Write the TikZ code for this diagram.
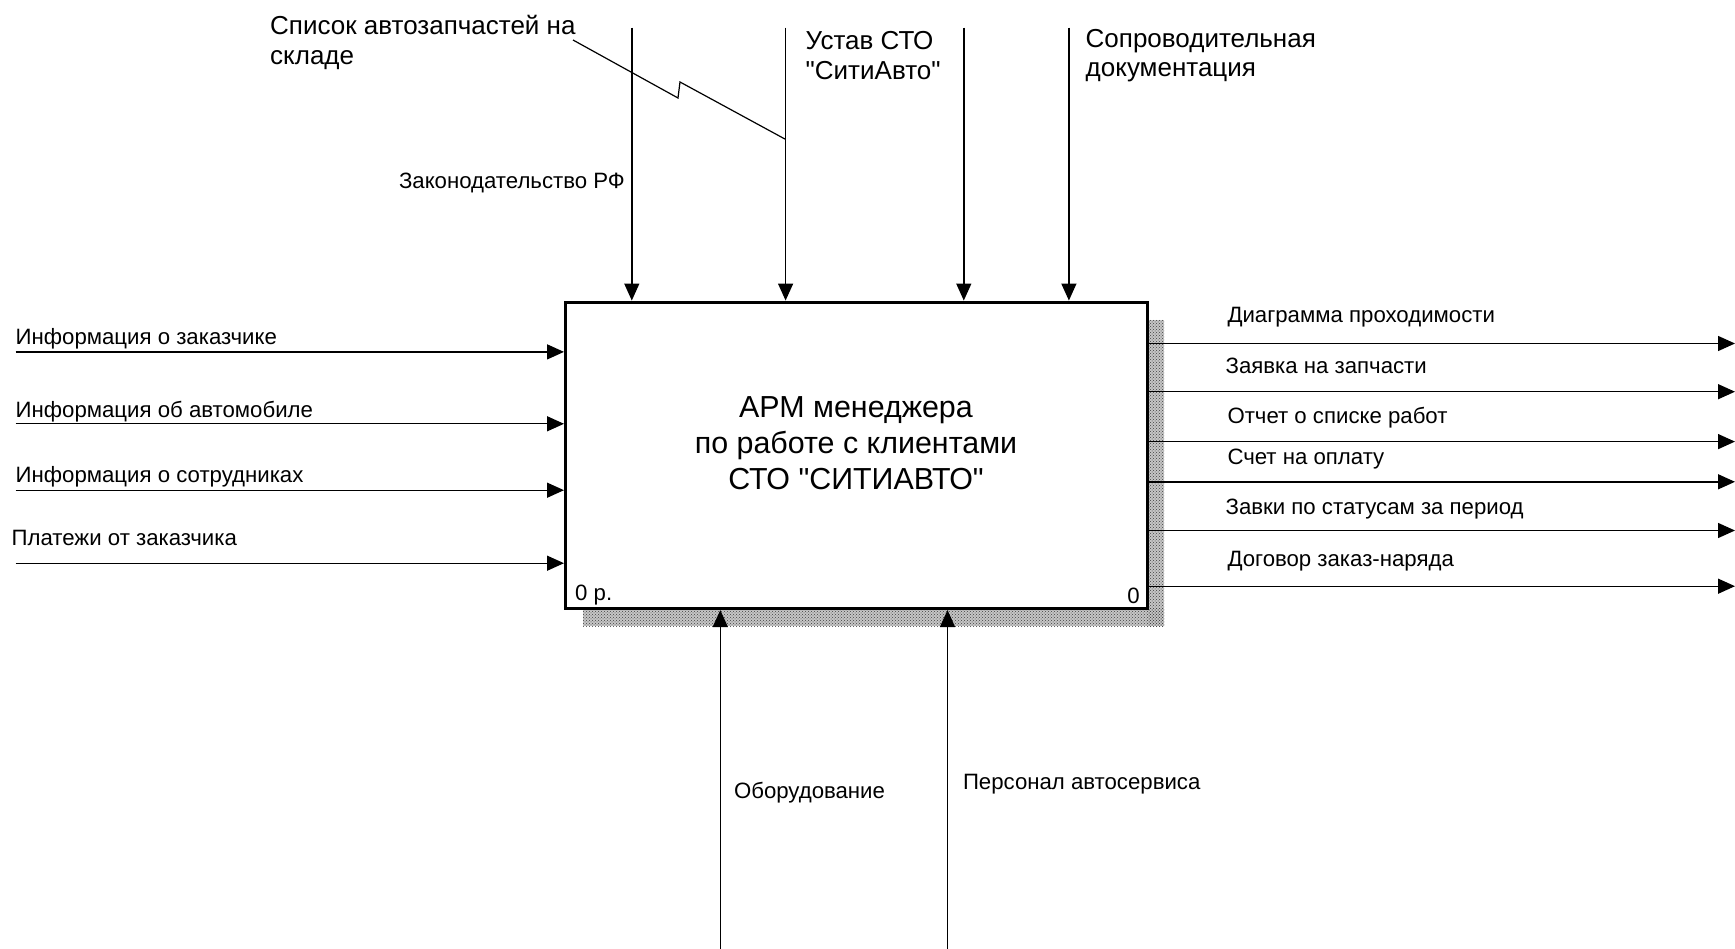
\documentclass[tikz,border=0pt]{standalone}
\usepackage{fontspec}
\setmainfont{Liberation Sans}[Ligatures=TeXOff]
\usetikzlibrary{arrows.meta,patterns}
\begin{document}
\begin{tikzpicture}[x=1pt,y=-1pt,
  flow/.style={line width=1.4pt,-{Triangle[length=17pt,width=15pt]}},
  lbl/.style={anchor=west,inner sep=0pt,yshift=-2.5pt,font=\fontsize{22.2}{25}\selectfont},
  biglbl/.style={anchor=west,inner sep=0pt,yshift=-1.5pt,align=left,font=\fontsize{26}{29.5}\selectfont},
  actbox/.style={draw,line width=3pt,fill=white,minimum width=582pt,minimum height=306.5pt,inner sep=0pt},
  shade/.style={pattern=crosshatch dots,pattern color=black!75}
]
\useasboundingbox (0,0) rectangle (1735,949);
\fill[white] (0,0) rectangle (1735,949);
% shadow
\fill[gray!45] (1147.5,320) rectangle (1164,626);
\fill[gray!45] (583,608) rectangle (1164,626);
\fill[shade] (1147.5,320) rectangle (1164,626);
\fill[shade] (583,608) rectangle (1164,626);
% box
\node[actbox] (box) at (856.5,455.3) {};
\node[align=center,inner sep=0pt,font=\fontsize{30.4}{35.8}\selectfont] (title) at (856,443)
  {АРМ менеджера\\по работе с клиентами\\СТО "СИТИАВТО"};
\node[lbl,anchor=west] (nl) at (575,593) {0 р.};
\node[lbl,anchor=east] (nr) at (1140,593) {0};
% top controls
\coordinate (t1) at (631.8,27.7);
\coordinate (t2) at (785.6,27.7);
\coordinate (t3) at (963.8,27.7);
\coordinate (t4) at (1068.9,27.7);
\draw[flow] (t1) -- (t1 |- box.north);
\draw[flow] (t2) -- (t2 |- box.north);
\draw[flow] (t3) -- (t3 |- box.north);
\draw[flow] (t4) -- (t4 |- box.north);
\node[biglbl] (lsp) at (270,41) {Список автозапчастей на\\складе};
\coordinate (zs) at (573,40);
\coordinate (ze) at (785.6,139.4);
\draw[line width=1.2pt] (zs) -- (678,98) -- (680,82) -- (ze);
\node[lbl,anchor=east] (lzak) at (625,180.4) {Законодательство РФ};
\node[biglbl] (lust) at (805.5,54.2) {Устав СТО\\"СитиАвто"};
\node[biglbl] (lsop) at (1085.5,54.2) {Сопроводительная\\документация};
% inputs
\coordinate (i1) at (15.5,351.9);
\coordinate (i2) at (15.5,423.8);
\coordinate (i3) at (15.5,490.2);
\coordinate (i4) at (15.5,563.2);
\draw[flow] (i1) -- (i1 -| box.west);
\draw[flow] (i2) -- (i2 -| box.west);
\draw[flow] (i3) -- (i3 -| box.west);
\draw[flow] (i4) -- (i4 -| box.west);
\node[lbl] (li1) at (15.5,336.5) {Информация о заказчике};
\node[lbl] (li2) at (15.5,409.5) {Информация об автомобиле};
\node[lbl] (li3) at (15.5,474.5) {Информация о сотрудниках};
\node[lbl] (li4) at (11.5,535) {Платежи от заказчика};
% outputs
\coordinate (o1) at (1735,343.5);
\coordinate (o2) at (1735,391.7);
\coordinate (o3) at (1735,441.6);
\coordinate (o4) at (1735,481.8);
\coordinate (o5) at (1735,530.5);
\coordinate (o6) at (1735,586.2);
\draw[flow] (o1 -| box.east) -- (o1);
\draw[flow] (o2 -| box.east) -- (o2);
\draw[flow] (o3 -| box.east) -- (o3);
\draw[flow] (o4 -| box.east) -- (o4);
\draw[flow] (o5 -| box.east) -- (o5);
\draw[flow] (o6 -| box.east) -- (o6);
\node[lbl] (lo1) at (1227.3,315) {Диаграмма проходимости};
\node[lbl] (lo2) at (1225.4,363.3) {Заявка на запчасти};
\node[lbl] (lo3) at (1227.3,415) {Отчет о списке работ};
\node[lbl] (lo4) at (1227.3,456.7) {Счет на оплату};
\node[lbl] (lo5) at (1225.4,506.7) {Завки по статусам за период};
\node[lbl] (lo6) at (1227.3,558.3) {Договор заказ-наряда};
% mechanisms
\coordinate (m1) at (720.3,949);
\coordinate (m2) at (947.5,949);
\draw[flow] (m1) -- (m1 |- box.south);
\draw[flow] (m2) -- (m2 |- box.south);
\node[lbl] (lm1) at (733.8,790) {Оборудование};
\node[lbl] (lm2) at (962.8,782) {Персонал автосервиса};
\end{tikzpicture}
\end{document}
